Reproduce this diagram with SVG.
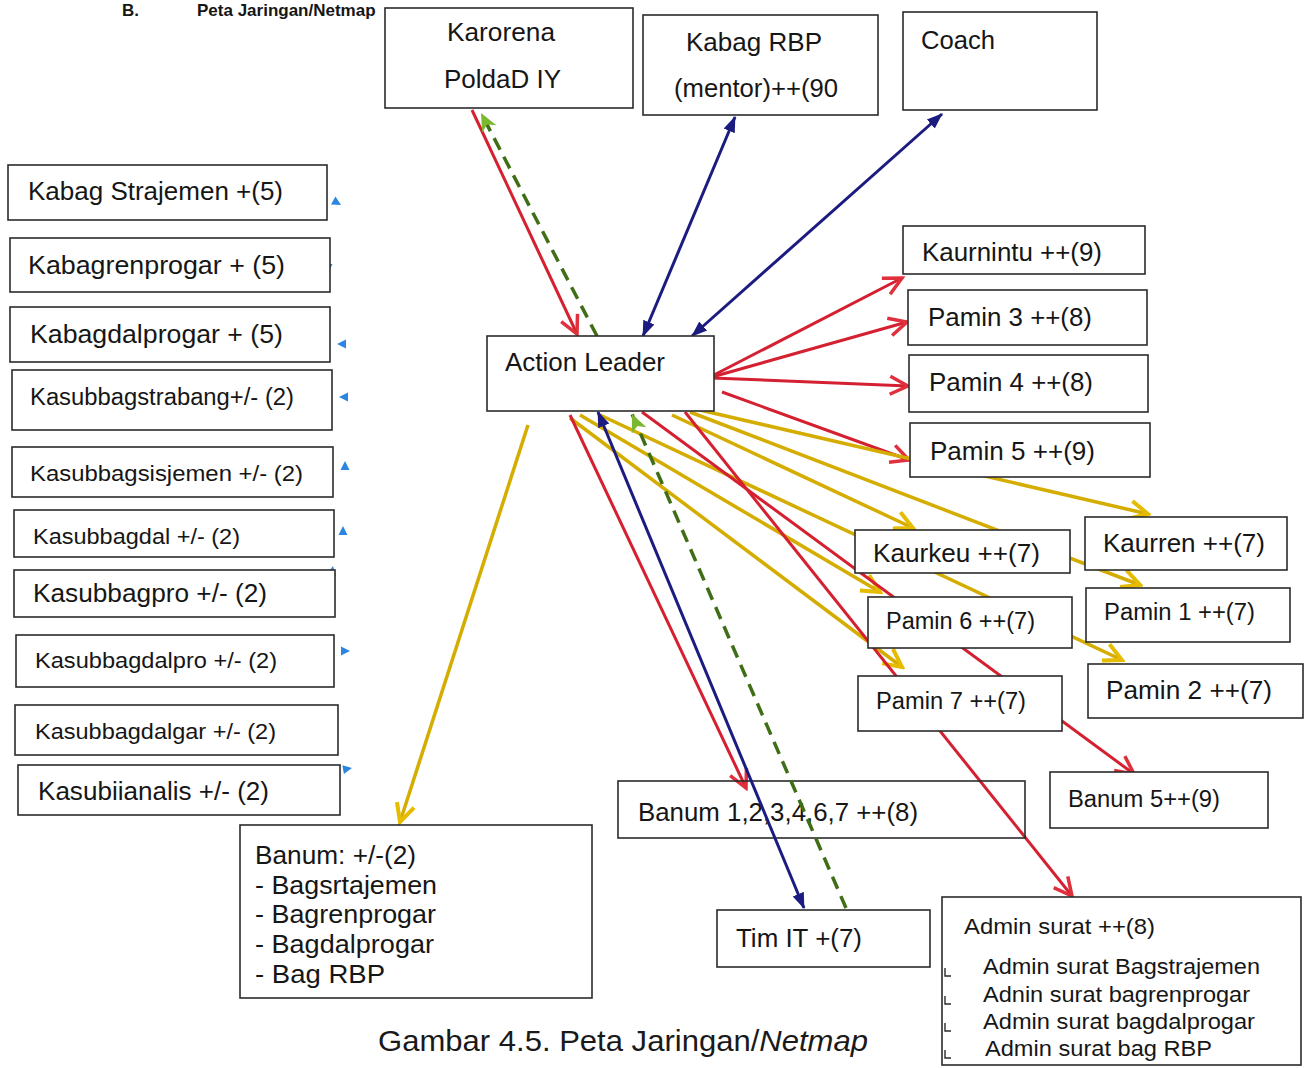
<svg xmlns="http://www.w3.org/2000/svg" width="1314" height="1068" viewBox="0 0 1314 1068">
<style>
text{font-family:"Liberation Sans",Arial,sans-serif;fill:#161616;font-size:25px}
.s23{font-size:23px}
.s22{font-size:22px}
.hd{font-size:17px;font-weight:bold}
.cap{font-size:30px;fill:#1a1a1a}
.box{fill:#fff;stroke:#2b2b2b;stroke-width:1.6}
.open{fill:none;stroke:#2b2b2b;stroke-width:1.6}
.red{fill:none;stroke:#d42030;stroke-width:3}
.yel{fill:none;stroke:#d4ad00;stroke-width:3.5}
.blu{fill:none;stroke:#1c1c80;stroke-width:3}
.grn{fill:none;stroke:#3f6e16;stroke-width:3.5;stroke-dasharray:13 8}
.tip{fill:#2a86e0}
.tick{fill:none;stroke:#2b2b2b;stroke-width:1.4}
</style>
<defs>
<marker id="mr" viewBox="0 0 24 24" refX="21" refY="12" markerWidth="24" markerHeight="24" markerUnits="userSpaceOnUse" orient="auto"><path d="M3,3 L21,12 L3,21" fill="none" stroke="#e0303c" stroke-width="3.5"/></marker>
<marker id="my" viewBox="0 0 24 24" refX="21" refY="12" markerWidth="24" markerHeight="24" markerUnits="userSpaceOnUse" orient="auto"><path d="M3,3 L21,12 L3,21" fill="none" stroke="#e6bc00" stroke-width="4"/></marker>
<marker id="mb" viewBox="0 0 16 16" refX="15" refY="8" markerWidth="16" markerHeight="16" markerUnits="userSpaceOnUse" orient="auto-start-reverse"><path d="M0,2 L16,8 L0,14 Z" fill="#1c1c80"/></marker>
<marker id="mg" viewBox="0 0 20 20" refX="18" refY="10" markerWidth="20" markerHeight="20" markerUnits="userSpaceOnUse" orient="auto"><path d="M0,2 L18,10 L0,18 L5,10 Z" fill="#7cb82f"/></marker>
<path id="btip" d="M0,0 L-9,-4.5 L-9,4.5 Z"/>
</defs>

<text class="hd" x="122" y="16">B.</text>
<text class="hd" x="197" y="16">Peta Jaringan/Netmap</text>

<g id="connectors">
  <path class="red" d="M472,110 L577,334" marker-end="url(#mr)"/>
  <path class="grn" d="M597,336 L481,113" marker-end="url(#mg)"/>
  <path class="blu" d="M643,336 L735,117" marker-start="url(#mb)" marker-end="url(#mb)"/>
  <path class="blu" d="M692,336 L942,114" marker-start="url(#mb)" marker-end="url(#mb)"/>
  <path class="red" d="M712,376 L902,278" marker-end="url(#mr)"/>
  <path class="red" d="M712,377 L907,322" marker-end="url(#mr)"/>
  <path class="red" d="M712,378 L908,386" marker-end="url(#mr)"/>
  <path class="red" d="M722,392 L909,460" marker-end="url(#mr)"/>
  <path class="yel" d="M700,410 L1148,514" marker-end="url(#my)"/>
  <path class="yel" d="M690,412 L1140,585" marker-end="url(#my)"/>
  <path class="yel" d="M672,415 L913,528" marker-end="url(#my)"/>
  <path class="yel" d="M600,415 L1122,660" marker-end="url(#my)"/>
  <path class="yel" d="M580,415 L880,592" marker-end="url(#my)"/>
  <path class="yel" d="M570,418 L902,667" marker-end="url(#my)"/>
  <path class="yel" d="M528,425 L400,822" marker-end="url(#my)"/>
  <path class="red" d="M642,412 L1134,774" marker-end="url(#mr)"/>
  <path class="red" d="M685,412 L1072,896" marker-end="url(#mr)"/>
  <path class="red" d="M570,415 L746,788" marker-end="url(#mr)"/>
  <use href="#btip" class="tip" transform="translate(341,205) rotate(30)"/>
  <use href="#btip" class="tip" transform="translate(328,273) rotate(90)"/>
  <use href="#btip" class="tip" transform="translate(337,344) rotate(180)"/>
  <use href="#btip" class="tip" transform="translate(339,397) rotate(180)"/>
  <use href="#btip" class="tip" transform="translate(345,461) rotate(-90)"/>
  <use href="#btip" class="tip" transform="translate(343,526) rotate(-90)"/>
  <use href="#btip" class="tip" transform="translate(333,566) rotate(-80)"/>
  <use href="#btip" class="tip" transform="translate(350,651)"/>
  <use href="#btip" class="tip" transform="translate(339,712) rotate(-20)"/>
  <use href="#btip" class="tip" transform="translate(352,768) rotate(-10)"/>
</g>

<g id="karorena"><rect class="box" x="385" y="8" width="248" height="100"/><text x="447" y="41" textLength="108" lengthAdjust="spacingAndGlyphs">Karorena</text><text x="444" y="88" textLength="117" lengthAdjust="spacingAndGlyphs">PoldaD IY</text></g>
<g id="kabag-rbp"><rect class="box" x="643" y="15" width="235" height="100"/><text x="686" y="51" textLength="136" lengthAdjust="spacingAndGlyphs">Kabag RBP</text><text x="674" y="97" textLength="164" lengthAdjust="spacingAndGlyphs">(mentor)++(90</text></g>
<g id="coach"><rect class="box" x="903" y="12" width="194" height="98"/><text x="921" y="49" textLength="74" lengthAdjust="spacingAndGlyphs">Coach</text></g>

<g id="kabag-strajemen"><rect class="box" x="8" y="165" width="319" height="55"/><text x="28" y="200" textLength="255" lengthAdjust="spacingAndGlyphs">Kabag Strajemen +(5)</text></g>
<g id="kabagrenprogar"><rect class="box" x="10" y="238" width="320" height="54"/><text x="28" y="274" textLength="257" lengthAdjust="spacingAndGlyphs">Kabagrenprogar + (5)</text></g>
<g id="kabagdalprogar"><rect class="box" x="10" y="307" width="320" height="55"/><text x="30" y="343" textLength="253" lengthAdjust="spacingAndGlyphs">Kabagdalprogar + (5)</text></g>
<g id="kasubbagstrabang"><rect class="box" x="12" y="370" width="320" height="60"/><text class="s23" x="30" y="405" textLength="264" lengthAdjust="spacingAndGlyphs">Kasubbagstrabang+/- (2)</text></g>
<g id="kasubbagsisjemen"><rect class="box" x="12" y="447" width="321" height="50"/><text class="s22" x="30" y="481" textLength="273" lengthAdjust="spacingAndGlyphs">Kasubbagsisjemen +/- (2)</text></g>
<g id="kasubbagdal"><rect class="box" x="14" y="510" width="320" height="47"/><text class="s22" x="33" y="544" textLength="207" lengthAdjust="spacingAndGlyphs">Kasubbagdal +/- (2)</text></g>
<g id="kasubbagpro"><rect class="box" x="14" y="570" width="321" height="47"/><text x="33" y="602" textLength="234" lengthAdjust="spacingAndGlyphs">Kasubbagpro +/- (2)</text></g>
<g id="kasubbagdalpro"><rect class="box" x="16" y="635" width="318" height="52"/><text class="s22" x="35" y="668" textLength="242" lengthAdjust="spacingAndGlyphs">Kasubbagdalpro +/- (2)</text></g>
<g id="kasubbagdalgar"><rect class="box" x="15" y="705" width="323" height="50"/><text class="s22" x="35" y="739" textLength="241" lengthAdjust="spacingAndGlyphs">Kasubbagdalgar +/- (2)</text></g>
<g id="kasubiianalis"><rect class="box" x="18" y="765" width="322" height="50"/><text x="38" y="800" textLength="231" lengthAdjust="spacingAndGlyphs">Kasubiianalis +/- (2)</text></g>

<g id="action-leader"><rect class="box" x="487" y="336" width="227" height="75"/><text x="505" y="371" textLength="160" lengthAdjust="spacingAndGlyphs">Action Leader</text></g>

<g id="kaurnintu"><rect class="box" x="903" y="226" width="242" height="48"/><text x="922" y="261" textLength="180" lengthAdjust="spacingAndGlyphs">Kaurnintu ++(9)</text></g>
<g id="pamin3"><rect class="box" x="908" y="290" width="239" height="55"/><text x="928" y="326" textLength="164" lengthAdjust="spacingAndGlyphs">Pamin 3 ++(8)</text></g>
<g id="pamin4"><rect class="box" x="909" y="355" width="239" height="57"/><text x="929" y="391" textLength="164" lengthAdjust="spacingAndGlyphs">Pamin 4 ++(8)</text></g>
<g id="pamin5"><rect class="box" x="910" y="423" width="240" height="54"/><text x="930" y="460" textLength="165" lengthAdjust="spacingAndGlyphs">Pamin 5 ++(9)</text></g>
<g id="kaurkeu"><rect class="box" x="855" y="530" width="215" height="43"/><text x="873" y="562" textLength="167" lengthAdjust="spacingAndGlyphs">Kaurkeu ++(7)</text></g>
<g id="kaurren"><rect class="box" x="1085" y="517" width="202" height="53"/><text x="1103" y="552" textLength="162" lengthAdjust="spacingAndGlyphs">Kaurren ++(7)</text></g>
<g id="pamin6"><rect class="box" x="868" y="597" width="204" height="51"/><text class="s23" x="886" y="629" textLength="149" lengthAdjust="spacingAndGlyphs">Pamin 6 ++(7)</text></g>
<g id="pamin1"><rect class="box" x="1086" y="588" width="204" height="54"/><text class="s23" x="1104" y="620" textLength="151" lengthAdjust="spacingAndGlyphs">Pamin 1 ++(7)</text></g>
<g id="pamin7"><rect class="box" x="858" y="676" width="204" height="55"/><text class="s23" x="876" y="709" textLength="150" lengthAdjust="spacingAndGlyphs">Pamin 7 ++(7)</text></g>
<g id="pamin2"><rect class="box" x="1088" y="664" width="215" height="54"/><text x="1106" y="699" textLength="166" lengthAdjust="spacingAndGlyphs">Pamin 2 ++(7)</text></g>
<g id="banum5"><rect class="box" x="1050" y="772" width="218" height="56"/><text class="s23" x="1068" y="807" textLength="152" lengthAdjust="spacingAndGlyphs">Banum 5++(9)</text></g>
<g id="banum-1-7"><rect class="open" x="618" y="781" width="407" height="57"/><text x="638" y="821" textLength="280" lengthAdjust="spacingAndGlyphs">Banum 1,2,3,4,6,7 ++(8)</text></g>

<g id="banum-list"><rect class="box" x="240" y="825" width="352" height="173"/>
<text x="255" y="864" textLength="161" lengthAdjust="spacingAndGlyphs">Banum: +/-(2)</text>
<text x="255" y="894" textLength="182" lengthAdjust="spacingAndGlyphs">- Bagsrtajemen</text>
<text x="255" y="923" textLength="181" lengthAdjust="spacingAndGlyphs">- Bagrenprogar</text>
<text x="255" y="953" textLength="179" lengthAdjust="spacingAndGlyphs">- Bagdalprogar</text>
<text x="255" y="983" textLength="130" lengthAdjust="spacingAndGlyphs">- Bag RBP</text></g>

<g id="tim-it"><rect class="box" x="717" y="910" width="213" height="57"/><text x="736" y="947" textLength="126" lengthAdjust="spacingAndGlyphs">Tim IT +(7)</text></g>

<g id="admin-surat"><rect class="box" x="942" y="897" width="359" height="168"/>
<text class="s22" x="964" y="934" textLength="191" lengthAdjust="spacingAndGlyphs">Admin surat ++(8)</text>
<path class="tick" d="M945,968 V976 H951 M945,996 V1004 H951 M945,1023 V1031 H951 M945,1050 V1058 H951"/>
<text class="s22" x="983" y="974" textLength="277" lengthAdjust="spacingAndGlyphs">Admin surat Bagstrajemen</text>
<text class="s22" x="983" y="1002" textLength="267" lengthAdjust="spacingAndGlyphs">Adnin surat bagrenprogar</text>
<text class="s22" x="983" y="1029" textLength="272" lengthAdjust="spacingAndGlyphs">Admin surat bagdalprogar</text>
<text class="s22" x="985" y="1056" textLength="227" lengthAdjust="spacingAndGlyphs">Admin surat bag RBP</text></g>

<g id="connectors-over">
  <path class="blu" d="M598,412 L804,908" marker-start="url(#mb)" marker-end="url(#mb)"/>
  <path class="grn" d="M846,908 L632,414" marker-end="url(#mg)"/>
</g>

<text class="cap" x="378" y="1051" textLength="490" lengthAdjust="spacingAndGlyphs">Gambar 4.5. Peta Jaringan/<tspan font-style="italic">Netmap</tspan></text>
</svg>
